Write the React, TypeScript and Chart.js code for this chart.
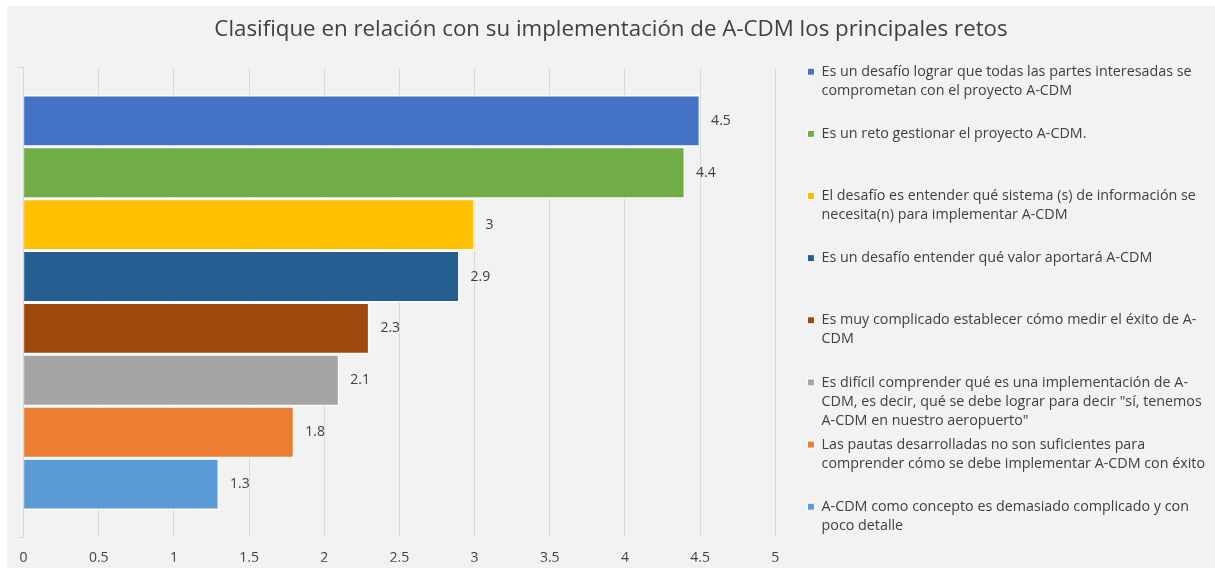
import React, { useEffect, useRef } from 'react';
import { Chart, registerables } from 'chart.js';

Chart.register(...registerables);

const FONT = '"Open Sans", "Noto Sans", sans-serif';

const TITLE = 'Clasifique en relación con su implementación de A-CDM los principales retos';

const CATEGORY_AXIS = [''];

const SERIES_LINES: string[][] = [
  ['Es un desafío lograr que todas las partes interesadas se', 'comprometan con el proyecto A-CDM'],
  ['Es un reto gestionar el proyecto A-CDM.'],
  ['El desafío es entender qué sistema (s) de información se', 'necesita(n) para implementar A-CDM'],
  ['Es un desafío entender qué valor aportará A-CDM'],
  ['Es muy complicado establecer cómo medir el éxito de A-', 'CDM'],
  ['Es difícil comprender qué es una implementación de A-', 'CDM, es decir, qué se debe lograr para decir "sí, tenemos', 'A-CDM en nuestro aeropuerto"'],
  ['Las pautas desarrolladas no son suficientes para', 'comprender cómo se debe implementar A-CDM con éxito'],
  ['A-CDM como concepto es demasiado complicado y con', 'poco detalle'],
];

const VALUES = [4.5, 4.4, 3, 2.9, 2.3, 2.1, 1.8, 1.3];

const COLORS = ['#4472C4', '#70AD47', '#FFC000', '#255E91', '#9E480E', '#A5A5A5', '#ED7D31', '#5B9BD5'];

const X_TICK_LABELS = ['0', '0.5', '1', '1.5', '2', '2.5', '3', '3.5', '4', '4.5', '5'];

const TEXT_COLOR = '#404040';
const GRID_COLOR = '#d9d9d9';
const LEGEND_SIZE = 14.3;

const padLines = (lines: string[]) => {
  const out = lines.slice();
  while (out.length < 3) out.push('');
  return out;
};

const valueLabels = {
  id: 'valueLabels',
  afterDatasetsDraw(chart: any) {
    const ctx = chart.ctx;
    ctx.save();
    ctx.font = `14px ${FONT}`;
    ctx.fillStyle = TEXT_COLOR;
    ctx.textAlign = 'left';
    ctx.textBaseline = 'middle';
    chart.data.datasets.forEach((ds: any, i: number) => {
      const meta = chart.getDatasetMeta(i);
      meta.data.forEach((el: any, j: number) => {
        const { x, y } = el.getProps(['x', 'y'], true);
        ctx.fillText(String(ds.data[j]), x + 11, y);
      });
    });
    ctx.restore();
  },
};

export default function App() {
  const ref = useRef<HTMLCanvasElement | null>(null);

  useEffect(() => {
    if (!ref.current) return;
    const chart = new Chart(ref.current, {
      type: 'bar',
      data: {
        labels: CATEGORY_AXIS,
        datasets: VALUES.map((v, i) => ({
          label: SERIES_LINES[i].join(' '),
          data: [v],
          backgroundColor: COLORS[i],
          borderColor: '#ffffff',
          borderWidth: 1.5,
          categoryPercentage: 0.885,
          barPercentage: 1,
        })),
      },
      options: {
        indexAxis: 'y',
        responsive: false,
        animation: false,
        devicePixelRatio: 1,
        layout: { padding: { left: 0, right: 0, top: 0, bottom: 6.3 } },
        scales: {
          x: {
            type: 'linear',
            min: 0,
            max: 5,
            ticks: {
              stepSize: 0.5,
              maxRotation: 0,
              color: TEXT_COLOR,
              font: { family: FONT, size: 14 },
              padding: 12.6,
              callback: (_v: any, i: number) => X_TICK_LABELS[i],
            },
            grid: { color: GRID_COLOR, drawTicks: false },
            border: { display: false },
            afterFit: (s: any) => {
              s.height = 24.7;
            },
          },
          y: {
            type: 'category',
            position: 'left',
            ticks: { display: false },
            grid: { display: true, drawOnChartArea: false, drawTicks: true, tickLength: 5, color: GRID_COLOR },
            border: { display: true, color: GRID_COLOR },
            afterFit: (s: any) => {
              s.width = 16;
            },
          },
          gap: {
            type: 'linear',
            position: 'right',
            display: true,
            ticks: { display: false },
            grid: { display: false },
            border: { display: false },
            afterFit: (s: any) => {
              s.width = 27;
            },
          },
        },
        plugins: {
          title: {
            display: true,
            text: TITLE,
            color: TEXT_COLOR,
            font: { family: FONT, size: 22.3, weight: 'normal' },
            padding: { top: 10.6, bottom: 24.6 },
          },
          legend: {
            position: 'right',
            align: 'end',
            maxWidth: 440,
            labels: {
              boxWidth: 7,
              boxHeight: 7,
              padding: 5.14,
              color: TEXT_COLOR,
              font: { family: FONT, size: LEGEND_SIZE, lineHeight: 19 / LEGEND_SIZE },
              generateLabels: () =>
                SERIES_LINES.map((lines, i) => ({
                  text: padLines(lines),
                  fillStyle: COLORS[i],
                  strokeStyle: '#ffffff',
                  lineWidth: 1,
                  hidden: false,
                  datasetIndex: i,
                  fontColor: TEXT_COLOR,
                })) as any,
            },
          },
          tooltip: { enabled: false },
        },
      } as any,
      plugins: [valueLabels],
    });
    return () => chart.destroy();
  }, []);

  return (
    <div style={{ position: 'absolute', left: 7, top: 6, width: 1208, height: 562, background: '#f2f2f2' }}>
      <canvas ref={ref} width={1208} height={562} style={{ display: 'block', width: 1208, height: 562 }} />
    </div>
  );
}
